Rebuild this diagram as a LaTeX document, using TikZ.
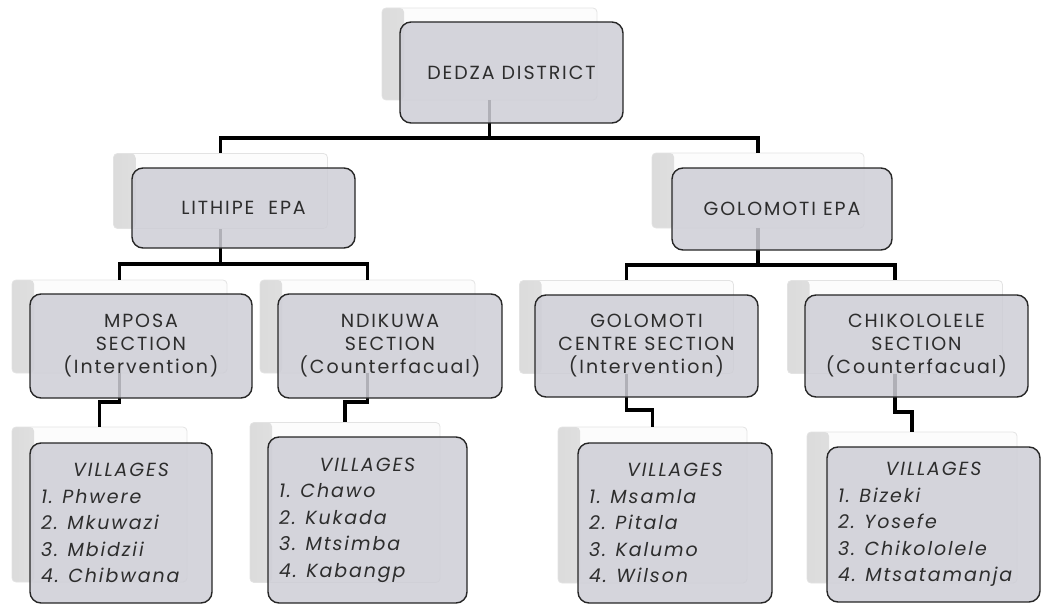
\documentclass[tikz,border=0pt]{standalone}
\usepackage{fontspec}
\setmainfont{Poppins}[LetterSpace=10]
\usetikzlibrary{calc}
\definecolor{frontfill}{RGB}{206,206,214}
\definecolor{txt}{RGB}{45,45,45}
\begin{document}
\begin{tikzpicture}[x=1pt,y=-1pt,
  backbox/.style={rectangle,rounded corners=4,draw=gray!22,fill=gray!2,line width=0.8,inner sep=0,
    path picture={\shade[left color=gray!28,right color=gray!2] (path picture bounding box.south west) rectangle ([xshift=22pt]path picture bounding box.north west);}},
  frontbox/.style={rectangle,rounded corners=11,draw=black!85,line width=1.4,fill=frontfill,
    fill opacity=0.86,text opacity=1,text=txt,align=center,inner sep=0,
    font=\fontsize{19}{23}\selectfont},
  villbox/.style={frontbox,align=left,inner xsep=11,inner ysep=0,
    font=\fontsize{19}{26.5}\selectfont\itshape},
  conn/.style={line width=3.4,black}
]
\useasboundingbox (0,0) rectangle (1041,607);

% back boxes
\node[backbox,minimum width=215,minimum height=92] (dB) at (489.5,54) {};
\node[backbox,minimum width=214,minimum height=75] (lB) at (220.5,191) {};
\node[backbox,minimum width=212,minimum height=75] (gB) at (758,190.5) {};
\node[backbox,minimum width=215,minimum height=93] (mB) at (119.5,326.5) {};
\node[backbox,minimum width=215,minimum height=93] (nB) at (367.5,326.5) {};
\node[backbox,minimum width=214,minimum height=93] (gcB) at (626.5,327) {};
\node[backbox,minimum width=215,minimum height=93] (cB) at (895,327) {};
\node[backbox,minimum width=175,minimum height=155] (v1B) at (99.5,504.5) {};
\node[backbox,minimum width=190,minimum height=160] (v2B) at (345,502.5) {};
\node[backbox,minimum width=189,minimum height=156] (v3B) at (652.5,505) {};
\node[backbox,minimum width=210,minimum height=151] (v4B) at (912,507.5) {};

% junction coordinates
\coordinate (j0) at (0,138);
\coordinate (j1) at (0,264);
\coordinate (j2) at (0,265);
\coordinate (jm) at (0,402);
\coordinate (jn) at (0,402);
\coordinate (jg) at (0,410);
\coordinate (jc) at (0,412);

% connectors
\draw[conn] (dB.south) -- (dB.south |- j0) -| (lB.north);
\draw[conn] (dB.south |- j0) -| (gB.north);
\draw[conn] (lB.south) -- (lB.south |- j1) -| (mB.north);
\draw[conn] (lB.south |- j1) -| (nB.north);
\draw[conn] (gB.south) -- (gB.south |- j2) -| (gcB.north);
\draw[conn] (gB.south |- j2) -| (cB.north);
\draw[conn] (mB.south) -- (mB.south |- jm) -| (v1B.north);
\draw[conn] (nB.south) -- (nB.south |- jn) -| (v2B.north);
\draw[conn] (gcB.south) -- (gcB.south |- jg) -| (v3B.north);
\draw[conn] (cB.south) -- (cB.south |- jc) -| (v4B.north);

% front boxes
\node[frontbox,minimum width=223,minimum height=101] (d) at (511.5,72.5) {DEDZA DISTRICT};
\node[frontbox,minimum width=223,minimum height=80] (l) at (243.5,208) {LITHIPE\ \ EPA};
\node[frontbox,minimum width=220,minimum height=82] (g) at (782,209) {GOLOMOTI EPA};
\node[frontbox,minimum width=222,minimum height=104] (m) at (141,346) {MPOSA\\SECTION\\(Intervention)};
\node[frontbox,minimum width=224,minimum height=104] (n) at (390,346) {NDIKUWA\\SECTION\\(Counterfacual)};
\node[frontbox,minimum width=223,minimum height=102] (gc) at (646.5,346) {GOLOMOTI\\CENTRE SECTION\\(Intervention)};
\node[frontbox,minimum width=223,minimum height=102] (c) at (916.5,346) {CHIKOLOLELE\\SECTION\\(Counterfacual)};

\node[villbox,text width=160,minimum height=160] (v1) at (121,523) {\centering VILLAGES\par\raggedright 1. Phwere\\2. Mkuwazi\\3. Mbidzii\\4. Chibwana};
\node[villbox,text width=177,minimum height=166] (v2) at (367.5,520) {\centering VILLAGES\par\raggedright 1. Chawo\\2. Kukada\\3. Mtsimba\\4. Kabangp};
\node[villbox,text width=172,minimum height=160] (v3) at (675,523) {\centering VILLAGES\par\raggedright 1. Msamla\\2. Pitala\\3. Kalumo\\4. Wilson};
\node[villbox,text width=191,minimum height=155] (v4) at (933.5,524.5) {\centering VILLAGES\par\raggedright 1. Bizeki\\2. Yosefe\\3. Chikololele\\4. Mtsatamanja};
\end{tikzpicture}
\end{document}
